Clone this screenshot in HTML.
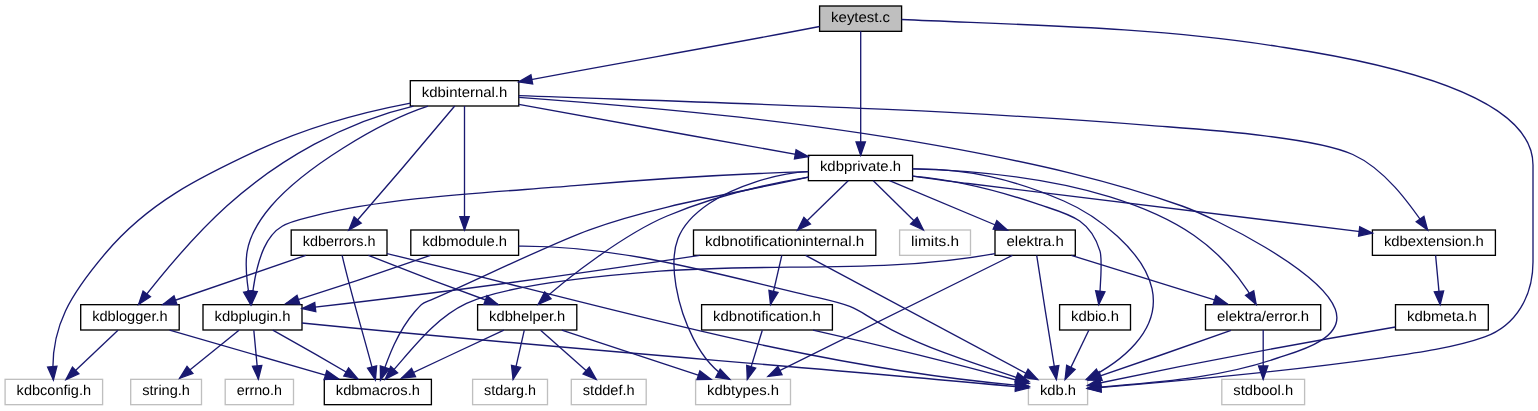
<!DOCTYPE html>
<html><head><meta charset="utf-8"><title>keytest.c include graph</title>
<style>html,body{margin:0;padding:0;background:#fff;}svg{display:block;will-change:transform;}text{text-rendering:geometricPrecision;font-family:"Liberation Sans",sans-serif;font-size:14.3px;fill:#000;}</style></head><body>
<svg width="1538" height="411" viewBox="0 0 1538 411">
<rect x="0" y="0" width="1538" height="411" fill="#ffffff"/>
<rect x="819.60" y="6.00" width="82.00" height="25.33" fill="#bfbfbf" stroke="#000000" stroke-width="1.33"/>
<rect x="410.30" y="80.67" width="108.50" height="25.33" fill="#ffffff" stroke="#000000" stroke-width="1.33"/>
<rect x="808.40" y="155.33" width="104.20" height="25.33" fill="#ffffff" stroke="#000000" stroke-width="1.33"/>
<rect x="291.20" y="230.00" width="95.80" height="25.33" fill="#ffffff" stroke="#000000" stroke-width="1.33"/>
<rect x="410.80" y="230.00" width="107.80" height="25.33" fill="#ffffff" stroke="#000000" stroke-width="1.33"/>
<rect x="693.50" y="230.00" width="182.30" height="25.33" fill="#ffffff" stroke="#000000" stroke-width="1.33"/>
<rect x="899.60" y="230.00" width="70.90" height="25.33" fill="#ffffff" stroke="#bfbfbf" stroke-width="1.33"/>
<rect x="995.00" y="230.00" width="80.30" height="25.33" fill="#ffffff" stroke="#000000" stroke-width="1.33"/>
<rect x="1372.40" y="230.00" width="123.00" height="25.33" fill="#ffffff" stroke="#000000" stroke-width="1.33"/>
<rect x="80.70" y="304.67" width="98.50" height="25.33" fill="#ffffff" stroke="#000000" stroke-width="1.33"/>
<rect x="203.00" y="304.67" width="99.00" height="25.33" fill="#ffffff" stroke="#000000" stroke-width="1.33"/>
<rect x="477.60" y="304.67" width="99.20" height="25.33" fill="#ffffff" stroke="#000000" stroke-width="1.33"/>
<rect x="701.60" y="304.67" width="130.80" height="25.33" fill="#ffffff" stroke="#000000" stroke-width="1.33"/>
<rect x="1059.60" y="304.67" width="70.90" height="25.33" fill="#ffffff" stroke="#000000" stroke-width="1.33"/>
<rect x="1205.50" y="304.67" width="115.20" height="25.33" fill="#ffffff" stroke="#000000" stroke-width="1.33"/>
<rect x="1395.50" y="304.67" width="92.80" height="25.33" fill="#ffffff" stroke="#000000" stroke-width="1.33"/>
<rect x="5.10" y="379.34" width="97.50" height="25.33" fill="#ffffff" stroke="#bfbfbf" stroke-width="1.33"/>
<rect x="130.70" y="379.34" width="70.80" height="25.33" fill="#ffffff" stroke="#bfbfbf" stroke-width="1.33"/>
<rect x="225.20" y="379.34" width="68.30" height="25.33" fill="#ffffff" stroke="#bfbfbf" stroke-width="1.33"/>
<rect x="324.30" y="379.34" width="107.10" height="25.33" fill="#ffffff" stroke="#000000" stroke-width="1.33"/>
<rect x="472.60" y="379.34" width="74.90" height="25.33" fill="#ffffff" stroke="#bfbfbf" stroke-width="1.33"/>
<rect x="571.30" y="379.34" width="74.90" height="25.33" fill="#ffffff" stroke="#bfbfbf" stroke-width="1.33"/>
<rect x="695.60" y="379.34" width="94.90" height="25.33" fill="#ffffff" stroke="#bfbfbf" stroke-width="1.33"/>
<rect x="1028.40" y="379.34" width="59.20" height="25.33" fill="#ffffff" stroke="#bfbfbf" stroke-width="1.33"/>
<rect x="1221.80" y="379.34" width="82.80" height="25.33" fill="#ffffff" stroke="#bfbfbf" stroke-width="1.33"/>
<g fill="none" stroke="#191970" stroke-width="1.33">
<path d="M819.60,26.50 C719.47,45.91 618.89,62.86 518.70,81.90"/>
<path d="M860.70,31.30 L860.70,155.30"/>
<path d="M901.60,19.50 C1027.18,25.18 1153.00,26.83 1277.50,46.40 C1322.35,53.45 1533.00,81.81 1533.00,165.00 L1533.00,262.00 C1533.00,295.21 1516.64,325.40 1484.70,336.90 C1453.95,347.97 1412.38,353.50 1380.00,358.10 C1281.80,372.06 1186.24,380.55 1087.50,388.60"/>
<path d="M410.50,103.10 C356.58,113.34 308.73,126.58 259.00,149.70 C199.07,177.56 148.41,202.56 105.70,253.00 C72.77,291.89 48.84,326.29 53.40,380.00"/>
<path d="M413.50,106.10 C345.34,121.84 278.57,159.32 226.80,206.00 C196.96,232.91 163.43,272.42 138.60,304.50"/>
<path d="M428.00,106.10 C378.79,122.09 303.40,168.39 271.20,206.00 C242.31,239.74 242.72,261.10 250.60,304.50"/>
<path d="M454.70,106.00 C419.91,147.74 384.64,189.07 348.90,230.00"/>
<path d="M464.50,106.00 L464.50,230.00"/>
<path d="M518.80,104.30 C615.29,121.99 711.82,139.42 808.40,156.60"/>
<path d="M518.80,95.70 C728.57,103.27 944.15,108.85 1152.00,125.60 C1192.27,128.84 1311.93,135.97 1352.80,154.50 C1384.56,168.90 1408.41,202.05 1427.60,230.00"/>
<path d="M518.80,97.30 C666.13,108.24 813.06,122.08 958.50,149.40 C1033.83,163.55 1109.69,180.15 1182.00,206.00 C1214.14,217.49 1320.31,270.20 1335.20,309.00 C1347.09,339.97 1293.31,352.51 1277.50,358.00 C1215.83,379.41 1151.84,382.29 1087.50,388.20"/>
<path d="M808.40,171.60 C730.17,174.12 652.45,178.92 574.50,185.70 C505.62,191.69 390.41,196.26 315.20,215.60 C290.42,221.97 275.31,223.30 264.10,247.90 C256.52,264.54 253.04,286.55 251.40,304.50"/>
<path d="M808.40,177.10 C737.31,193.09 658.56,204.77 589.50,229.80 C548.75,244.57 479.00,279.27 434.00,298.70 C421.31,304.18 423.47,301.59 414.50,312.00 C397.90,331.26 388.53,356.30 380.50,380.00"/>
<path d="M808.40,177.10 C764.04,184.53 710.48,197.80 667.10,216.00 C626.19,233.16 568.05,276.71 538.10,304.50"/>
<path d="M808.40,171.60 C777.45,172.75 734.35,186.39 708.80,203.70 C676.94,225.29 669.43,247.45 676.00,286.20 C681.44,318.29 699.33,363.40 729.80,379.40"/>
<path d="M848.20,180.70 L797.60,230.00"/>
<path d="M873.30,180.70 L923.40,230.00"/>
<path d="M889.50,180.70 L1007.30,230.00"/>
<path d="M912.60,176.10 C954.33,179.72 996.91,190.20 1036.50,203.70 C1067.27,214.20 1089.68,217.23 1100.00,251.10 C1102.35,258.80 1100.42,290.16 1098.80,304.50"/>
<path d="M912.60,168.90 C967.65,168.22 1014.13,179.53 1063.80,201.00 C1097.58,215.60 1143.69,251.14 1152.00,288.70 C1161.42,331.29 1119.97,362.84 1086.50,379.30"/>
<path d="M912.60,168.90 C976.10,170.67 1049.43,178.06 1110.00,196.90 C1173.45,216.64 1222.11,244.17 1256.20,304.60"/>
<path d="M912.60,176.10 C936.45,179.71 944.20,180.54 968.30,183.50 L1372.40,233.10"/>
<path d="M305.80,255.40 L162.90,304.50"/>
<path d="M342.10,255.40 C351.86,297.29 364.69,338.36 375.40,380.00"/>
<path d="M368.40,255.40 C411.29,272.56 454.49,288.92 498.00,304.50"/>
<path d="M387.00,253.60 C600.16,304.87 808.95,368.16 1029.00,386.30"/>
<path d="M430.40,255.40 C382.45,272.34 334.22,288.44 285.70,303.70"/>
<path d="M518.60,246.10 C622.36,245.34 718.70,274.78 818.10,297.70 C865.48,308.63 852.59,309.63 891.70,329.80 C934.21,351.73 983.78,366.16 1029.00,381.70"/>
<path d="M699.80,255.40 C567.54,275.51 434.96,293.70 302.00,308.60"/>
<path d="M781.80,255.40 L770.50,304.50"/>
<path d="M805.60,255.40 C882.73,297.20 960.03,338.70 1037.70,379.50"/>
<path d="M995.00,253.60 C884.87,274.07 772.41,262.57 659.70,271.20 C613.16,274.76 509.93,283.05 466.50,303.40 C432.51,319.33 409.71,352.88 385.10,379.40"/>
<path d="M1012.40,255.40 C930.95,295.77 849.48,336.10 768.00,376.40"/>
<path d="M1036.70,255.40 C1043.02,296.77 1049.59,338.11 1056.40,379.40"/>
<path d="M1071.30,255.40 C1123.30,271.58 1175.30,287.75 1227.30,303.90"/>
<path d="M1435.60,255.40 L1440.20,304.60"/>
<path d="M118.00,330.20 L66.00,379.60"/>
<path d="M169.60,330.20 L338.30,378.80"/>
<path d="M239.00,330.20 L179.60,378.30"/>
<path d="M253.80,330.20 L258.40,379.10"/>
<path d="M272.80,330.20 C301.29,346.08 329.59,362.28 357.70,378.80"/>
<path d="M301.90,323.00 C544.15,347.37 786.61,365.13 1029.00,387.90"/>
<path d="M503.90,330.20 C469.68,346.02 435.55,362.02 401.50,378.20"/>
<path d="M524.30,330.20 L513.10,379.40"/>
<path d="M540.60,330.20 L596.20,379.40"/>
<path d="M561.80,330.20 C611.55,346.64 661.32,363.04 711.10,379.40"/>
<path d="M762.30,330.20 L747.30,379.40"/>
<path d="M813.00,330.20 C885.37,346.47 957.37,364.20 1029.00,383.40"/>
<path d="M1088.80,330.20 L1065.10,379.40"/>
<path d="M1231.00,330.30 C1183.45,347.26 1135.78,363.90 1088.00,380.20"/>
<path d="M1263.20,330.00 L1263.20,379.30"/>
<path d="M1395.50,327.00 C1292.43,344.44 1189.76,363.94 1087.50,385.50"/>
</g>
<g fill="#191970" stroke="#191970" stroke-width="1.33" stroke-linejoin="miter">
<polygon points="518.70,81.90 530.92,74.82 532.67,84.00"/>
<polygon points="860.70,155.30 856.03,141.97 865.37,141.97"/>
<polygon points="1087.50,388.60 1100.41,382.86 1101.17,392.17"/>
<polygon points="53.40,380.00 47.62,367.11 56.92,366.32"/>
<polygon points="138.60,304.50 143.07,291.10 150.45,296.82"/>
<polygon points="250.60,304.50 243.62,292.22 252.81,290.55"/>
<polygon points="348.90,230.00 354.15,216.89 361.19,223.03"/>
<polygon points="464.50,230.00 459.83,216.67 469.17,216.67"/>
<polygon points="808.40,156.60 794.46,158.86 796.09,149.67"/>
<polygon points="1427.60,230.00 1416.21,221.65 1423.91,216.37"/>
<polygon points="1087.50,388.20 1100.35,382.33 1101.20,391.63"/>
<polygon points="251.40,304.50 247.96,290.80 257.27,291.65"/>
<polygon points="380.50,380.00 380.35,365.88 389.20,368.87"/>
<polygon points="538.10,304.50 544.69,292.01 551.05,298.86"/>
<polygon points="729.80,379.40 715.83,377.34 720.17,369.07"/>
<polygon points="797.60,230.00 803.89,217.35 810.41,224.04"/>
<polygon points="923.40,230.00 910.62,223.98 917.17,217.32"/>
<polygon points="1007.30,230.00 993.20,229.16 996.81,220.55"/>
<polygon points="1098.80,304.50 1095.65,290.73 1104.94,291.78"/>
<polygon points="1086.50,379.30 1096.40,369.23 1100.52,377.61"/>
<polygon points="1256.20,304.60 1245.58,295.28 1253.72,290.70"/>
<polygon points="1372.40,233.10 1358.60,236.11 1359.74,226.84"/>
<polygon points="162.90,304.50 173.99,295.75 177.02,304.58"/>
<polygon points="375.40,380.00 367.56,368.25 376.60,365.93"/>
<polygon points="498.00,304.50 483.88,304.40 487.02,295.61"/>
<polygon points="1029.00,386.30 1015.33,389.86 1016.10,380.55"/>
<polygon points="285.70,303.70 297.01,295.25 299.82,304.16"/>
<polygon points="1029.00,381.70 1014.88,381.78 1017.91,372.95"/>
<polygon points="302.00,308.60 314.73,302.47 315.77,311.76"/>
<polygon points="770.50,304.50 768.94,290.46 778.04,292.56"/>
<polygon points="1037.70,379.50 1023.73,377.44 1028.07,369.17"/>
<polygon points="385.10,379.40 390.74,366.45 397.59,372.81"/>
<polygon points="768.00,376.40 777.88,366.30 782.02,374.68"/>
<polygon points="1056.40,379.40 1049.62,367.01 1058.84,365.49"/>
<polygon points="1227.30,303.90 1213.18,304.41 1215.96,295.49"/>
<polygon points="1440.20,304.60 1434.31,291.76 1443.61,290.89"/>
<polygon points="66.00,379.60 72.45,367.03 78.88,373.80"/>
<polygon points="338.30,378.80 324.20,379.60 326.78,370.62"/>
<polygon points="179.60,378.30 187.02,366.28 192.90,373.54"/>
<polygon points="258.40,379.10 252.50,366.27 261.80,365.39"/>
<polygon points="357.70,378.80 343.84,376.07 348.57,368.02"/>
<polygon points="1029.00,387.90 1015.29,391.30 1016.17,382.00"/>
<polygon points="401.50,378.20 411.54,368.26 415.54,376.70"/>
<polygon points="513.10,379.40 511.51,365.37 520.61,367.44"/>
<polygon points="596.20,379.40 583.12,374.06 589.31,367.07"/>
<polygon points="711.10,379.40 696.98,379.67 699.90,370.80"/>
<polygon points="747.30,379.40 746.72,365.29 755.65,368.01"/>
<polygon points="1029.00,383.40 1014.92,384.46 1017.33,375.44"/>
<polygon points="1065.10,379.40 1066.68,365.36 1075.09,369.42"/>
<polygon points="1088.00,380.20 1099.11,371.48 1102.12,380.32"/>
<polygon points="1263.20,379.30 1258.53,365.97 1267.87,365.97"/>
<polygon points="1087.50,385.50 1099.58,378.18 1101.51,387.32"/>
</g>
<text x="860.60" y="22.00" text-anchor="middle" textLength="59.0" lengthAdjust="spacingAndGlyphs">keytest.c</text>
<text x="464.55" y="97.00" text-anchor="middle" textLength="85.5" lengthAdjust="spacingAndGlyphs">kdbinternal.h</text>
<text x="860.50" y="171.00" text-anchor="middle" textLength="81.2" lengthAdjust="spacingAndGlyphs">kdbprivate.h</text>
<text x="339.10" y="246.00" text-anchor="middle" textLength="72.8" lengthAdjust="spacingAndGlyphs">kdberrors.h</text>
<text x="464.70" y="246.00" text-anchor="middle" textLength="84.8" lengthAdjust="spacingAndGlyphs">kdbmodule.h</text>
<text x="784.65" y="246.00" text-anchor="middle" textLength="159.3" lengthAdjust="spacingAndGlyphs">kdbnotificationinternal.h</text>
<text x="935.05" y="246.00" text-anchor="middle" textLength="47.9" lengthAdjust="spacingAndGlyphs">limits.h</text>
<text x="1035.15" y="246.00" text-anchor="middle" textLength="57.3" lengthAdjust="spacingAndGlyphs">elektra.h</text>
<text x="1433.90" y="246.00" text-anchor="middle" textLength="100.0" lengthAdjust="spacingAndGlyphs">kdbextension.h</text>
<text x="129.95" y="321.00" text-anchor="middle" textLength="75.5" lengthAdjust="spacingAndGlyphs">kdblogger.h</text>
<text x="252.50" y="321.00" text-anchor="middle" textLength="76.0" lengthAdjust="spacingAndGlyphs">kdbplugin.h</text>
<text x="527.20" y="321.00" text-anchor="middle" textLength="76.2" lengthAdjust="spacingAndGlyphs">kdbhelper.h</text>
<text x="767.00" y="321.00" text-anchor="middle" textLength="107.8" lengthAdjust="spacingAndGlyphs">kdbnotification.h</text>
<text x="1095.05" y="321.00" text-anchor="middle" textLength="47.9" lengthAdjust="spacingAndGlyphs">kdbio.h</text>
<text x="1263.10" y="321.00" text-anchor="middle" textLength="92.2" lengthAdjust="spacingAndGlyphs">elektra/error.h</text>
<text x="1441.90" y="321.00" text-anchor="middle" textLength="69.8" lengthAdjust="spacingAndGlyphs">kdbmeta.h</text>
<text x="53.85" y="395.00" text-anchor="middle" textLength="74.5" lengthAdjust="spacingAndGlyphs">kdbconfig.h</text>
<text x="166.10" y="395.00" text-anchor="middle" textLength="47.8" lengthAdjust="spacingAndGlyphs">string.h</text>
<text x="259.35" y="395.00" text-anchor="middle" textLength="45.3" lengthAdjust="spacingAndGlyphs">errno.h</text>
<text x="377.85" y="395.00" text-anchor="middle" textLength="84.1" lengthAdjust="spacingAndGlyphs">kdbmacros.h</text>
<text x="510.05" y="395.00" text-anchor="middle" textLength="51.9" lengthAdjust="spacingAndGlyphs">stdarg.h</text>
<text x="608.75" y="395.00" text-anchor="middle" textLength="51.9" lengthAdjust="spacingAndGlyphs">stddef.h</text>
<text x="743.05" y="395.00" text-anchor="middle" textLength="71.9" lengthAdjust="spacingAndGlyphs">kdbtypes.h</text>
<text x="1058.00" y="395.00" text-anchor="middle" textLength="36.2" lengthAdjust="spacingAndGlyphs">kdb.h</text>
<text x="1263.20" y="395.00" text-anchor="middle" textLength="59.8" lengthAdjust="spacingAndGlyphs">stdbool.h</text>
</svg></body></html>
